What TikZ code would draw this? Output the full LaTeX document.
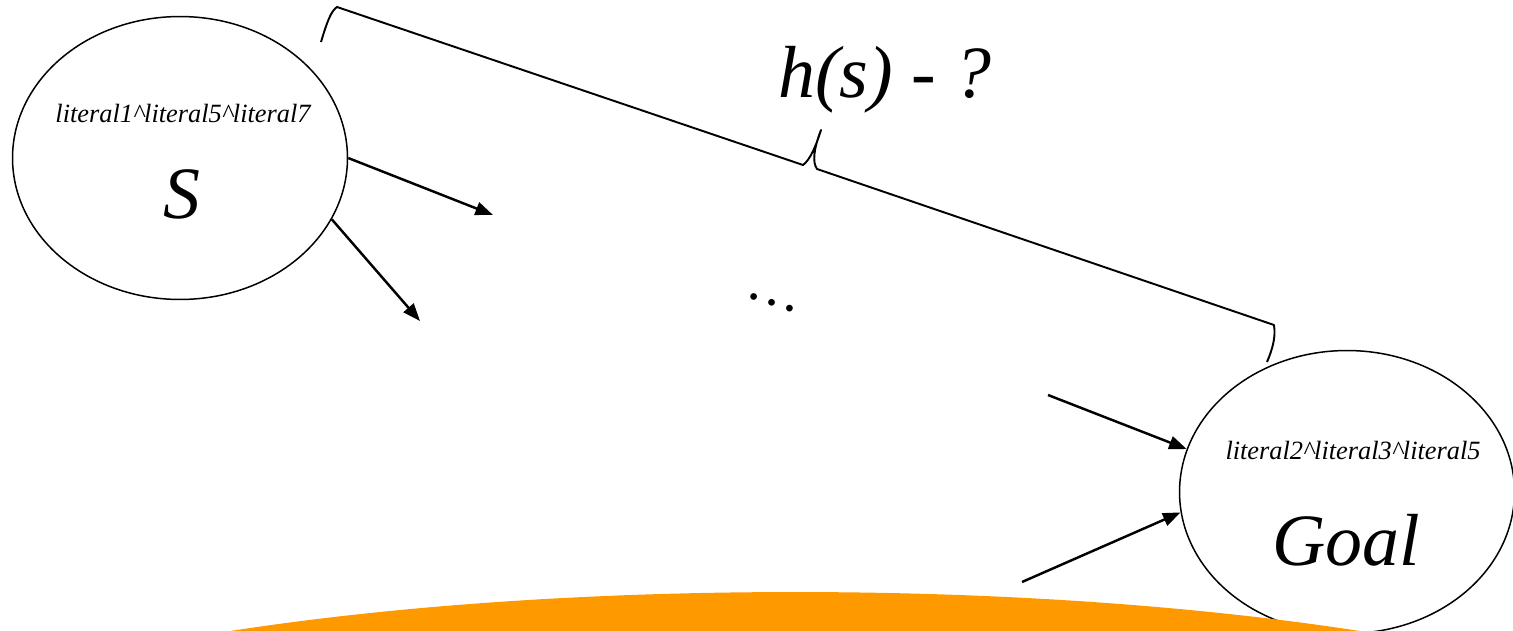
\documentclass[tikz,border=0pt]{standalone}
\usepackage{fontspec}
\setmainfont{LiberationSerif}[Extension=.ttf, UprightFont=*-Regular, ItalicFont=*-Italic]
\newfontfamily\timesit{LiberationSerif}[Extension=.ttf, UprightFont=*-Italic]
\definecolor{searchOrange}{RGB}{255, 153, 0}
\usetikzlibrary{shapes.geometric, arrows.meta}

\begin{document}
\begin{tikzpicture}[
    x=0.02cm, y=-0.02cm,
    state/.style={draw, ellipse, line width=0.85pt, minimum width=6.7cm,
                  minimum height=5.66cm, inner sep=0pt},
    lit/.style={anchor=base, font=\fontsize{15}{18}\timesit},
    big/.style={anchor=base, font=\fontsize{42}{48}\timesit},
    arr/.style={-{Triangle[length=10pt, width=7.5pt]}, line width=1.4pt},
    hbrace/.style={line width=1.1pt, line join=round}
  ]
    \useasboundingbox (0,0) rectangle (1513,631);
    \clip (0,0) rectangle (1513,631);

    \node[state] (s) at (180,158) {};
    \node[state] (goal) at (1347,492) {};
    \fill[searchOrange] (795,792) ellipse [x radius=19.04cm, y radius=4cm];

    \node[lit] (slit) at (183,123) {literal1\textasciicircum literal5\textasciicircum literal7};
    \node[big] (sname) at (182,219) {S};
    \node[lit] (glit) at (1353,459) {literal2\textasciicircum literal3\textasciicircum literal5};
    \node[big] (gname) at (1346,565) {Goal};

    \coordinate (bs) at (321,42);
    \coordinate (bt) at (821,130);
    \coordinate (bg) at (1267,362);
    \draw[hbrace] (bs) .. controls (327,22) and (331,11) .. (337,7) -- (803,165)
      .. controls (810,160) and (816,146) .. (bt)
      .. controls (814,148) and (812,162) .. (817,169) -- (1274,325)
      .. controls (1276,338) and (1272,350) .. (bg);
    \node[big] (hs) at (885,98) {h(s) - ?};

    \node[font=\fontsize{32}{38}\selectfont\bfseries, rotate=-18, inner sep=0pt] (dots) at (772,303) {…};

    \coordinate (s1) at (493,215);
    \coordinate (s2) at (420,321);
    \coordinate (g1) at (1048,395);
    \coordinate (g2) at (1022,582);
    \draw[arr] (s.east) -- (s1);
    \draw[arr] (s.-22) -- (s2);
    \draw[arr] (g1) -- (goal.165);
    \draw[arr] (g2) -- (goal.-173);
  \end{tikzpicture}
\end{document}
